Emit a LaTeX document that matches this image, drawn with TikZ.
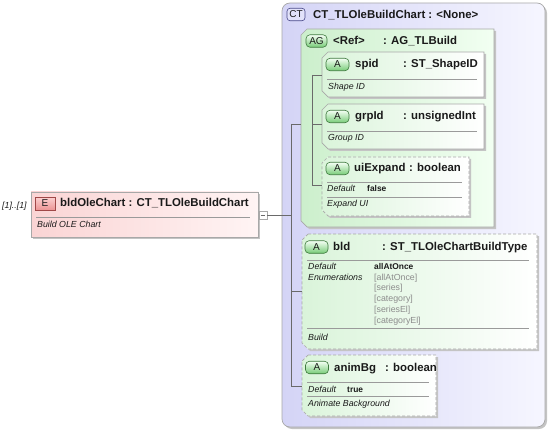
\documentclass[tikz,border=0pt]{standalone}
\usepackage{fontspec}
\setmainfont{Liberation Sans}
\definecolor{bordergray}{HTML}{A8A8A8}
\definecolor{shadowgray}{HTML}{C4C4C4}
\definecolor{linegray}{HTML}{9A9A9A}
\definecolor{connector}{HTML}{6A6A6A}
\definecolor{ctL}{HTML}{D4D4F6}
\definecolor{ctR}{HTML}{F6F6FF}
\definecolor{agL}{HTML}{CCEFCC}
\definecolor{agR}{HTML}{F2FFF2}
\definecolor{atL}{HTML}{DAF4DA}
\definecolor{atR}{HTML}{FFFFFF}
\definecolor{eL}{HTML}{FAD4D4}
\definecolor{eR}{HTML}{FFF4F4}
\definecolor{enumgray}{HTML}{8C8C8C}
\definecolor{txt}{HTML}{1A1A1A}
\definecolor{abadgeD}{HTML}{3E7A3E}
\definecolor{abadgeT}{HTML}{F4FFF4}
\definecolor{abadgeB}{HTML}{78CC78}
\definecolor{ebadgeT}{HTML}{FBD0D0}
\definecolor{ebadgeB}{HTML}{EC9494}
\definecolor{ebadgeD}{HTML}{A04848}
\definecolor{ctbadge}{HTML}{E2E2FA}
\definecolor{ctbadgeD}{HTML}{4A4A8A}
\newcommand{\chbox}[5]{\path[#5] ({#1+6},#2) -- (#3,#2) -- (#3,#4) -- ({#1+6},#4) -- (#1,{#4-6}) -- (#1,{#2+6}) -- cycle;}
\tikzset{
  head/.style={anchor=base west, inner sep=0, text=txt, font=\fontsize{11.4}{13}\selectfont\bfseries},
  note/.style={anchor=base west, inner sep=0, text=txt, font=\fontsize{8.8}{10}\selectfont\itshape},
  val/.style={anchor=base west, inner sep=0, text=txt, font=\fontsize{8.4}{10}\selectfont\bfseries},
  enumv/.style={anchor=base west, inner sep=0, text=enumgray, font=\fontsize{8.8}{10}\selectfont},
  sep/.style={draw=linegray, line width=0.6pt},
  boxborder/.style={draw=bordergray, line width=0.7pt},
  dashborder/.style={draw=bordergray, line width=0.7pt, dash pattern=on 3pt off 2pt},
  shadow/.style={fill=shadowgray, xshift=2pt, yshift=-2pt},
  conn/.style={draw=connector, line width=0.6pt},
  badgeA/.style={draw=abadgeD, line width=0.6pt, rounded corners=4pt, top color=abadgeT, bottom color=abadgeB, minimum width=23pt, minimum height=12.5pt, inner sep=0, text=txt, font=\fontsize{10}{11}\selectfont},
}
\begin{document}
\begin{tikzpicture}[x=1pt,y=-1pt]
\useasboundingbox (0,0) rectangle (548,430);

% ---------- E element ----------
\path[fill=shadowgray] (33,194) rectangle (260,239);
\path[boxborder, left color=eL, right color=eR] (31,192) rectangle (258,237);
\node[draw=ebadgeD, line width=0.6pt, top color=ebadgeT, bottom color=ebadgeB, minimum width=20pt, minimum height=13pt, inner sep=0, text=txt, font=\fontsize{10}{11}\selectfont] (ebadge) at (45,203.5) {E};
\node[head] (etitle) at (60,207) {bldOleChart : CT\_TLOleBuildChart};
\draw[sep] (36,217) -- (250,217);
\node[note] (edoc) at (37,228) {Build OLE Chart};
\node[note] (mult) at (2,208) {[1]..[1]};
\node[draw=bordergray, fill=white, line width=0.6pt, minimum size=8pt, inner sep=0] (exp) at (263,215) {};
\draw[draw=connector, line width=0.6pt] ([xshift=2pt]exp.west) -- ([xshift=-2pt]exp.east);

% ---------- CT box ----------
\path[fill=shadowgray, rounded corners=8pt] (284,5) rectangle (547,429);
\path[draw=bordergray, line width=0.7pt, left color=ctL, right color=ctR, rounded corners=8pt] (282,3) rectangle (545,427);
\node[draw=ctbadgeD, line width=0.6pt, fill=ctbadge, rounded corners=3pt, minimum width=18pt, minimum height=12.5pt, inner sep=0, text=txt, font=\fontsize{10}{11}\selectfont] (ctbadge) at (296,14.5) {CT};
\node[head] (cttitle) at (313,19) {CT\_TLOleBuildChart : <None>};

% ---------- AG box ----------
\chbox{301}{29}{494}{227}{shadow}
\chbox{301}{29}{494}{227}{boxborder, left color=agL, right color=agR}
\node[badgeA, minimum width=21pt] (agbadge) at (316.5,41) {AG};
\node[head] (agref) at (333,45) {<Ref>};
\node[head] (agtype) at (383,45) {: AG\_TLBuild};

% spid
\chbox{322}{52}{484}{97}{shadow}
\chbox{322}{52}{484}{97}{boxborder, left color=atL, right color=atR}
\node[badgeA] (spbadge) at (337.5,64.5) {A};
\node[head] (spname) at (355,68) {spid};
\node[head] (sptype) at (403,68) {: ST\_ShapeID};
\draw[sep] (327,79) -- (477,79);
\node[note] (spdoc) at (328,90) {Shape ID};

% grpId
\chbox{322}{104}{484}{149}{shadow}
\chbox{322}{104}{484}{149}{boxborder, left color=atL, right color=atR}
\node[badgeA] (grbadge) at (337.5,116.5) {A};
\node[head] (grname) at (355,120) {grpId};
\node[head] (grtype) at (403,120) {: unsignedInt};
\draw[sep] (327,131) -- (477,131);
\node[note] (grdoc) at (328,141) {Group ID};

% uiExpand
\chbox{322}{157}{469}{216}{shadow}
\chbox{322}{157}{469}{216}{fill=white}
\chbox{322}{157}{469}{216}{dashborder, left color=atL, right color=atR}
\node[badgeA] (uibadge) at (337.5,168.5) {A};
\node[head] (uiname) at (354,172) {uiExpand};
\node[head] (uitype) at (409,172) {: boolean};
\draw[sep] (327,182) -- (462,182);
\node[note] (uidefl) at (327,192) {Default};
\node[val] (uidefv) at (367,192) {false};
\draw[sep] (327,197) -- (462,197);
\node[note] (uidoc) at (327,207) {Expand UI};

% ---------- bld ----------
\chbox{302}{234}{537}{349}{shadow}
\chbox{302}{234}{537}{349}{fill=white}
\chbox{302}{234}{537}{349}{dashborder, left color=atL, right color=atR}
\node[badgeA] (bldbadge) at (316.5,247) {A};
\node[head] (bldname) at (333,251) {bld};
\node[head] (bldtype) at (382,251) {: ST\_TLOleChartBuildType};
\draw[sep] (307,260) -- (529,260);
\node[note] (blddefl) at (308,269) {Default};
\node[note] (bldenuml) at (308,280) {Enumerations};
\node[val] (blddefv) at (374,269) {allAtOnce};
\node[enumv] (e1) at (374,280) {[allAtOnce]};
\node[enumv] (e2) at (374,290.8) {[series]};
\node[enumv] (e3) at (374,301.6) {[category]};
\node[enumv] (e4) at (374,312.4) {[seriesEl]};
\node[enumv] (e5) at (374,323.2) {[categoryEl]};
\draw[sep] (307,328) -- (529,328);
\node[note] (blddoc) at (308,340) {Build};

% ---------- animBg ----------
\chbox{302}{355}{436}{416}{shadow}
\chbox{302}{355}{436}{416}{fill=white}
\chbox{302}{355}{436}{416}{dashborder, left color=atL, right color=atR}
\node[badgeA] (anbadge) at (317,367.5) {A};
\node[head] (anname) at (334,371) {animBg};
\node[head] (antype) at (385,371) {: boolean};
\draw[sep] (307,382) -- (429,382);
\node[note] (andefl) at (308,392) {Default};
\node[val] (andefv) at (347,392) {true};
\draw[sep] (307,396) -- (429,396);
\node[note] (andoc) at (308,406) {Animate Background};

% ---------- connectors ----------
\coordinate (jE) at (291,215);
\coordinate (jAG) at (291,124);
\coordinate (jBld) at (291,291);
\coordinate (jAnim) at (291,386);
\coordinate (agIn) at (301,124);
\coordinate (bldIn) at (302,291);
\coordinate (animIn) at (302,386);
\coordinate (kS) at (312,75);
\coordinate (kG) at (312,124);
\coordinate (kU) at (312,185);
\coordinate (spIn) at (322,75);
\coordinate (grIn) at (322,124);
\coordinate (uiIn) at (322,185);
\draw[conn] (exp.east) -- (jE);
\draw[conn] (jAG) -- (jAnim);
\draw[conn] (jAG) -- (agIn);
\draw[conn] (jBld) -- (bldIn);
\draw[conn] (jAnim) -- (animIn);
\draw[conn] (kS) -- (kU);
\draw[conn] (kS) -- (spIn);
\draw[conn] (kG) -- (grIn);
\draw[conn] (kU) -- (uiIn);
\end{tikzpicture}
\end{document}
